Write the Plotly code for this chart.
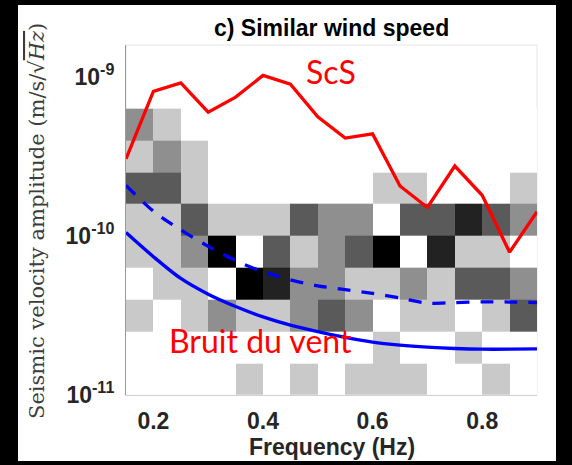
import plotly.graph_objects as go

# Frequency grid (Hz) shared by the spectra
freq = [0.15, 0.20, 0.25, 0.30, 0.35, 0.40, 0.45, 0.50,
        0.55, 0.60, 0.65, 0.70, 0.75, 0.80, 0.85, 0.90]

# ScS amplitude spectrum (m/s/sqrt(Hz))
scs = [3.05e-10, 8.1e-10, 9.15e-10, 6.0e-10, 7.45e-10, 1.02e-9, 9.0e-10, 5.6e-10,
       4.12e-10, 4.38e-10, 2.06e-10, 1.51e-10, 2.75e-10, 1.80e-10, 7.9e-11, 1.42e-10]

# Wind noise model (solid) and its upper envelope (dashed)
wind_noise = [1.05e-10, 7.4e-11, 5.4e-11, 4.3e-11, 3.6e-11, 3.1e-11, 2.75e-11, 2.5e-11,
              2.3e-11, 2.15e-11, 2.06e-11, 2.0e-11, 1.96e-11, 1.94e-11, 1.94e-11, 1.95e-11]
wind_upper = [2.08e-10, 1.43e-10, 1.09e-10, 8.6e-11, 7.0e-11, 5.95e-11, 5.3e-11, 4.85e-11,
              4.6e-11, 4.35e-11, 4.07e-11, 3.78e-11, 3.81e-11, 3.85e-11, 3.84e-11, 3.81e-11]

# 2-D histogram of observed noise: frequency bin edges and amplitude bin edges
freq_edges = [0.15, 0.20, 0.25, 0.30, 0.35, 0.40, 0.45, 0.50,
              0.55, 0.60, 0.65, 0.70, 0.75, 0.80, 0.85, 0.90]
amp_edges = [1e-11, 10 ** -10.8, 10 ** -10.6, 10 ** -10.4, 10 ** -10.2,
             1e-10, 10 ** -9.8, 10 ** -9.6, 10 ** -9.4, 10 ** -9.2]

# Counts per cell, lowest amplitude bin first
counts = [
    [0, 0, 0, 0, 1, 0, 1, 0, 1, 1, 1, 0, 0, 1, 0],
    [0, 0, 0, 0, 0, 0, 0, 0, 0, 1, 0, 0, 1, 0, 0],
    [1, 0, 1, 2, 1, 1, 2, 3, 2, 0, 1, 1, 0, 1, 3],
    [0, 1, 1, 0, 5, 4, 2, 2, 1, 1, 2, 1, 3, 3, 2],
    [1, 1, 2, 5, 0, 3, 1, 2, 3, 5, 0, 4, 1, 1, 0],
    [1, 1, 3, 1, 1, 1, 3, 2, 2, 0, 3, 3, 4, 3, 2],
    [3, 3, 1, 0, 0, 0, 0, 0, 0, 1, 1, 0, 0, 0, 1],
    [1, 2, 1, 0, 0, 0, 0, 0, 0, 0, 0, 0, 0, 0, 0],
    [2, 1, 0, 0, 0, 0, 0, 0, 0, 0, 0, 0, 0, 0, 0],
]

x_ticks = [0.2, 0.4, 0.6, 0.8]
y_ticks = [1e-11, 1e-10, 1e-9]
y_ticktext = ["10<sup>-11</sup>", "10<sup>-10</sup>", "10<sup>-9</sup>"]

W, H = 572, 465
ML, MR, MT, MB = 126, 35, 45, 70
PW, PH = W - ML - MR, H - MT - MB


def px(x):
    return (x - ML) / PW


def py(y):
    return (H - MB - y) / PH


grey_scale = [
    [0.0, "#ffffff"], [0.2, "#c9c9c9"], [0.4, "#8f8f8f"],
    [0.6, "#5a5a5a"], [0.8, "#222222"], [1.0, "#000000"],
]

fig = go.Figure()

fig.add_trace(go.Heatmap(
    x=freq_edges, y=amp_edges, z=counts,
    zmin=0, zmax=5, colorscale=grey_scale,
    showscale=False, hoverinfo="skip",
))

fig.add_trace(go.Scatter(
    x=freq, y=scs, mode="lines",
    line=dict(color="#ff0000", width=3.3),
    hoverinfo="skip", showlegend=False,
))
fig.add_trace(go.Scatter(
    x=freq, y=wind_upper, mode="lines",
    line=dict(color="#0000ff", width=3.3, dash="13px,11px", shape="spline", smoothing=0.8),
    hoverinfo="skip", showlegend=False,
))
fig.add_trace(go.Scatter(
    x=freq, y=wind_noise, mode="lines",
    line=dict(color="#0000ff", width=3.3, shape="spline", smoothing=0.8),
    hoverinfo="skip", showlegend=False,
))

tick_font = dict(family="Liberation Sans, Arial, sans-serif", size=23,
                 color="#262626", weight="bold")

fig.update_xaxes(
    range=[0.15, 0.9], tickvals=x_ticks, ticks="",
    showgrid=False, zeroline=False,
    showline=True, linecolor="#d2d2d2", linewidth=1,
    tickfont=tick_font, ticklabelstandoff=5,
)
fig.update_yaxes(
    type="log", range=[-11, -8.8],
    tickvals=y_ticks, ticktext=y_ticktext, ticks="",
    showgrid=False, zeroline=False,
    showline=True, linecolor="#9a9a9a", linewidth=1,
    tickfont=tick_font, ticklabelstandoff=6,
)

fig.update_layout(
    width=W, height=H,
    margin=dict(l=ML, r=MR, t=MT, b=MB),
    paper_bgcolor="#000000",
    plot_bgcolor="#ffffff",
    showlegend=False,
    shapes=[
        # white figure canvas
        dict(type="rect", xref="paper", yref="paper",
             x0=px(18), x1=px(556), y0=py(461), y1=py(5),
             fillcolor="#ffffff", line=dict(width=0), layer="below"),
        # faint axes box
        dict(type="rect", xref="paper", yref="paper",
             x0=0, x1=1, y0=0, y1=1,
             line=dict(color="#e6e6e6", width=1), layer="below"),
    ],
    annotations=[
        dict(text="<b>c) Similar wind speed</b>", x=0.5, y=py(28),
             xref="paper", yref="paper", xanchor="center", yanchor="middle",
             showarrow=False,
             font=dict(family="Liberation Sans, Arial, sans-serif", size=23, color="#000000")),
        dict(text="<b>Frequency (Hz)</b>", x=0.5, y=py(447),
             xref="paper", yref="paper", xanchor="center", yanchor="middle",
             showarrow=False,
             font=dict(family="Liberation Sans, Arial, sans-serif", size=23, color="#262626")),
        dict(text='Seismic velocity amplitude (m/s/√<span style="text-decoration:overline"><i>Hz</i></span>)',
             x=px(37), y=py(221), textangle=-90,
             xref="paper", yref="paper", xanchor="center", yanchor="middle",
             showarrow=False,
             font=dict(family="DejaVu Serif, serif", size=21, color="#3c3c3c")),
        dict(text="ScS", x=px(331), y=py(71),
             xref="paper", yref="paper", xanchor="center", yanchor="middle",
             showarrow=False,
             font=dict(family="Lato, sans-serif", size=32, color="#ff0000")),
        dict(text="Bruit du vent", x=px(167), y=py(340),
             xref="paper", yref="paper", xanchor="left", yanchor="middle",
             showarrow=False,
             font=dict(family="Lato, sans-serif", size=32, color="#ff0000")),
    ],
)

fig.write_html("out.html")
